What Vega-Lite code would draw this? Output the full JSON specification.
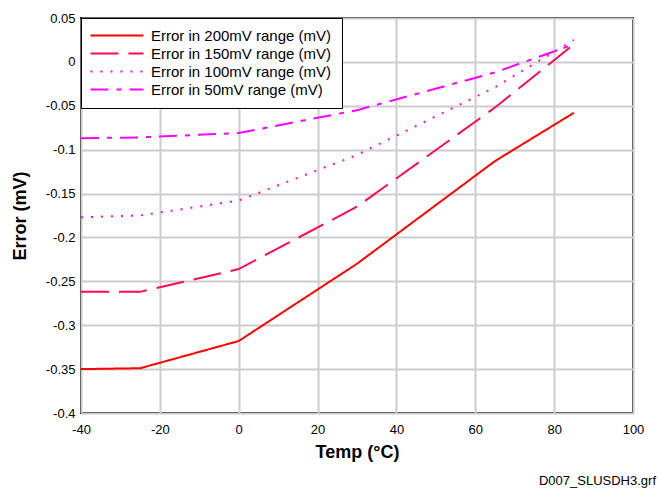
{
  "$schema": "https://vega.github.io/schema/vega-lite/v6.json",
  "width": 552,
  "height": 395,
  "autosize": {"type": "none"},
  "padding": {"left": 81, "top": 18, "right": 27, "bottom": 80},
  "background": "white",
  "config": {
    "font": "Liberation Sans",
    "locale": {"number": {"decimal": ".", "thousands": ",", "grouping": [3], "currency": ["$", ""], "minus": "-"}},
    "view": {"stroke": "black", "strokeWidth": 2},
    "axis": {
      "grid": true, "gridColor": "#cccccc", "gridWidth": 2,
      "domain": false, "ticks": false, "labelFlush": false, "labelOverlap": false,
      "labelFont": "Liberation Sans", "labelFontSize": 13, "labelColor": "black",
      "titleFont": "Liberation Sans", "titleFontSize": 18, "titleFontWeight": "bold", "titleColor": "black"
    },
    "legend": {
      "labelFont": "Liberation Sans", "labelFontSize": 15, "labelColor": "black", "labelLimit": 0
    }
  },
  "title": {
    "text": "D007_SLUSDH3.grf",
    "orient": "bottom",
    "anchor": "end",
    "frame": "group",
    "fontSize": 13,
    "fontWeight": "normal",
    "font": "Liberation Sans",
    "color": "black",
    "dx": 23,
    "offset": 14
  },
  "data": {
    "values": [
      {"temp": -40, "error": -0.350, "series": "Error in 200mV range (mV)"},
      {"temp": -25, "error": -0.349, "series": "Error in 200mV range (mV)"},
      {"temp": 0, "error": -0.318, "series": "Error in 200mV range (mV)"},
      {"temp": 30, "error": -0.230, "series": "Error in 200mV range (mV)"},
      {"temp": 65, "error": -0.113, "series": "Error in 200mV range (mV)"},
      {"temp": 85, "error": -0.058, "series": "Error in 200mV range (mV)"},
      {"temp": -40, "error": -0.262, "series": "Error in 150mV range (mV)"},
      {"temp": -25, "error": -0.262, "series": "Error in 150mV range (mV)"},
      {"temp": 0, "error": -0.236, "series": "Error in 150mV range (mV)"},
      {"temp": 30, "error": -0.165, "series": "Error in 150mV range (mV)"},
      {"temp": 65, "error": -0.052, "series": "Error in 150mV range (mV)"},
      {"temp": 85, "error": 0.020, "series": "Error in 150mV range (mV)"},
      {"temp": -40, "error": -0.177, "series": "Error in 100mV range (mV)"},
      {"temp": -25, "error": -0.175, "series": "Error in 100mV range (mV)"},
      {"temp": 0, "error": -0.158, "series": "Error in 100mV range (mV)"},
      {"temp": 30, "error": -0.106, "series": "Error in 100mV range (mV)"},
      {"temp": 65, "error": -0.029, "series": "Error in 100mV range (mV)"},
      {"temp": 85, "error": 0.025, "series": "Error in 100mV range (mV)"},
      {"temp": -40, "error": -0.087, "series": "Error in 50mV range (mV)"},
      {"temp": -25, "error": -0.086, "series": "Error in 50mV range (mV)"},
      {"temp": 0, "error": -0.081, "series": "Error in 50mV range (mV)"},
      {"temp": 30, "error": -0.055, "series": "Error in 50mV range (mV)"},
      {"temp": 65, "error": -0.012, "series": "Error in 50mV range (mV)"},
      {"temp": 85, "error": 0.020, "series": "Error in 50mV range (mV)"}
    ]
  },
  "mark": {"type": "line", "strokeWidth": 2, "clip": true},
  "encoding": {
    "x": {
      "field": "temp", "type": "quantitative", "title": "Temp (°C)",
      "scale": {"domain": [-40, 100], "nice": false, "zero": false},
      "axis": {"values": [-40, -20, 0, 20, 40, 60, 80, 100], "labelPadding": 10, "titlePadding": 7}
    },
    "y": {
      "field": "error", "type": "quantitative", "title": "Error (mV)",
      "scale": {"domain": [-0.4, 0.05], "nice": false, "zero": false},
      "axis": {"values": [-0.4, -0.35, -0.3, -0.25, -0.2, -0.15, -0.1, -0.05, 0, 0.05], "format": "~g", "labelPadding": 6, "titlePadding": 16}
    },
    "color": {
      "field": "series", "type": "nominal",
      "sort": ["Error in 200mV range (mV)", "Error in 150mV range (mV)", "Error in 100mV range (mV)", "Error in 50mV range (mV)"],
      "scale": {
        "domain": ["Error in 200mV range (mV)", "Error in 150mV range (mV)", "Error in 100mV range (mV)", "Error in 50mV range (mV)"],
        "range": ["#ff0000", "#ff0a54", "#ff10c8", "#ff00ff"]
      },
      "legend": {
        "title": null, "orient": "top-left", "offset": 0, "padding": 10,
        "strokeColor": "black", "fillColor": "white", "rowPadding": 2,
        "symbolType": "M-1.6,0H9", "symbolSize": 100, "symbolStrokeWidth": 2, "labelOffset": 45
      }
    },
    "strokeDash": {
      "field": "series", "type": "nominal",
      "scale": {
        "domain": ["Error in 200mV range (mV)", "Error in 150mV range (mV)", "Error in 100mV range (mV)", "Error in 50mV range (mV)"],
        "range": [[1, 0], [28, 10], [2, 8], [18, 8, 5, 8]]
      },
      "legend": null
    }
  }
}
